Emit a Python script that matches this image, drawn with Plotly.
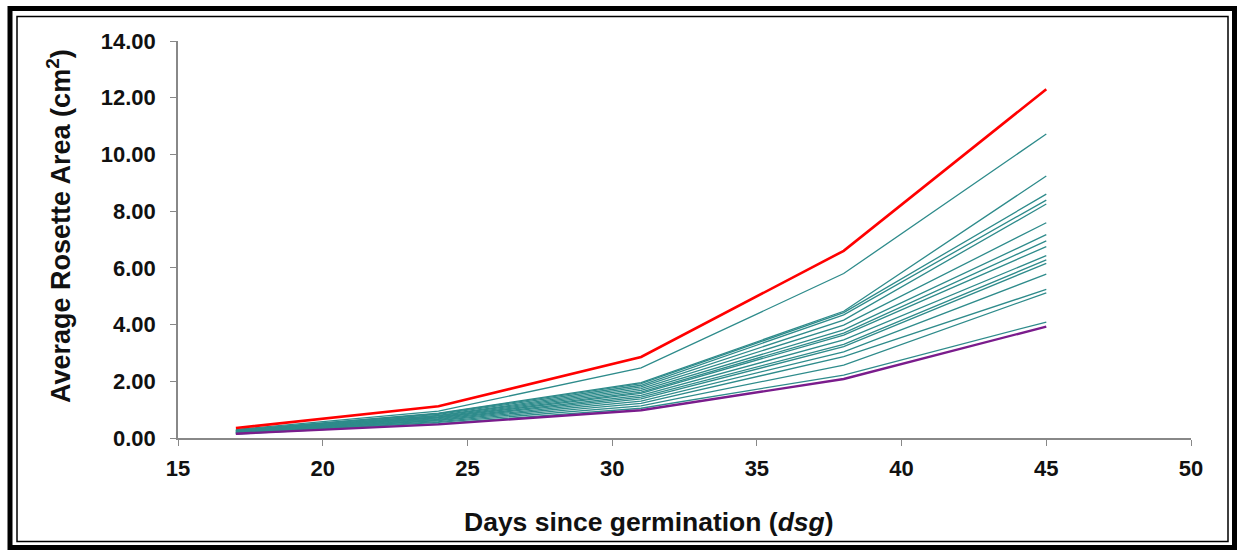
import plotly.graph_objects as go

# Days since germination at which rosettes were measured
days = [17, 24, 31, 38, 45]

# Largest and smallest lines
red_area = [0.35, 1.12, 2.86, 6.60, 12.30]
purple_area = [0.15, 0.48, 0.98, 2.08, 3.93]

# Remaining lines (cm^2), one list per line
teal_areas = [
    [0.30, 0.95, 2.47, 5.80, 10.72],
    [0.28, 0.88, 1.95, 4.47, 9.24],
    [0.27, 0.86, 1.92, 4.42, 8.60],
    [0.26, 0.83, 1.86, 4.34, 8.39],
    [0.25, 0.80, 1.80, 4.16, 8.25],
    [0.24, 0.78, 1.74, 3.98, 7.59],
    [0.23, 0.75, 1.68, 3.81, 7.17],
    [0.22, 0.73, 1.62, 3.70, 6.95],
    [0.21, 0.71, 1.57, 3.63, 6.75],
    [0.20, 0.68, 1.50, 3.46, 6.43],
    [0.19, 0.66, 1.44, 3.30, 6.28],
    [0.18, 0.63, 1.38, 3.22, 6.16],
    [0.17, 0.61, 1.30, 3.04, 5.78],
    [0.16, 0.58, 1.22, 2.87, 5.24],
    [0.15, 0.55, 1.13, 2.57, 5.12],
    [0.14, 0.51, 1.05, 2.22, 4.09],
]

x_ticks = [15, 20, 25, 30, 35, 40, 45, 50]
y_ticks = [0, 2, 4, 6, 8, 10, 12, 14]

W, H = 1243, 550
L, R, T, B = 178, 52, 41, 112
PW, PH = W - L - R, H - T - B


def px(x):
    return (x - L) / PW


def py(y):
    return (H - B - y) / PH


fig = go.Figure()

teal = "#2E8B8B"
for series in teal_areas:
    fig.add_trace(go.Scatter(x=days, y=series, mode="lines",
                             line=dict(color=teal, width=1.3),
                             showlegend=False, hoverinfo="skip"))

fig.add_trace(go.Scatter(x=days, y=purple_area, mode="lines",
                         line=dict(color="#7A1C8C", width=2.4), showlegend=False))
fig.add_trace(go.Scatter(x=days, y=red_area, mode="lines",
                         line=dict(color="#FF0000", width=2.6), showlegend=False))

font = dict(family="Liberation Sans, Arial, sans-serif", color="#111111")

fig.update_xaxes(range=[15, 50], tickvals=x_ticks,
                 ticktext=[f"<b>{v}</b>" for v in x_ticks],
                 ticks="outside", ticklen=6, ticklabelstandoff=4,
                 tickcolor="#888888", showline=True, linecolor="#888888",
                 linewidth=1.5, showgrid=False, zeroline=False,
                 tickfont=dict(size=22, **font))
fig.update_yaxes(range=[0, 14], tickvals=y_ticks,
                 ticktext=[f"<b>{v:.2f}</b>" for v in y_ticks],
                 ticks="outside", ticklen=6, ticklabelstandoff=10,
                 tickcolor="#888888", showline=True,
                 linecolor="#888888", linewidth=1.5, showgrid=False,
                 zeroline=False, tickfont=dict(size=22, **font))

# Double frame around the figure
shapes = [
    dict(type="rect", xref="paper", yref="paper",
         x0=px(10), x1=px(1234.5), y0=py(8.5), y1=py(547.5),
         line=dict(color="black", width=5)),
    dict(type="rect", xref="paper", yref="paper",
         x0=px(17), x1=px(1228), y0=py(16.5), y1=py(541.5),
         line=dict(color="black", width=1.5)),
]

annotations = [
    dict(text="<b>Days since germination (<i>dsg</i>)</b>", xref="paper",
         yref="paper", x=px(649), y=py(522), showarrow=False,
         font=dict(size=26.5, **font), xanchor="center", yanchor="middle"),
    dict(text="<b>Average Rosette Area (cm<sup>2</sup>)</b>", xref="paper",
         yref="paper", x=px(59), y=py(226), showarrow=False, textangle=-90,
         font=dict(size=27, **font), xanchor="center", yanchor="middle"),
]

fig.update_layout(width=W, height=H, margin=dict(l=L, r=R, t=T, b=B),
                  plot_bgcolor="white", paper_bgcolor="white",
                  shapes=shapes, annotations=annotations)

fig.write_html("out.html")
